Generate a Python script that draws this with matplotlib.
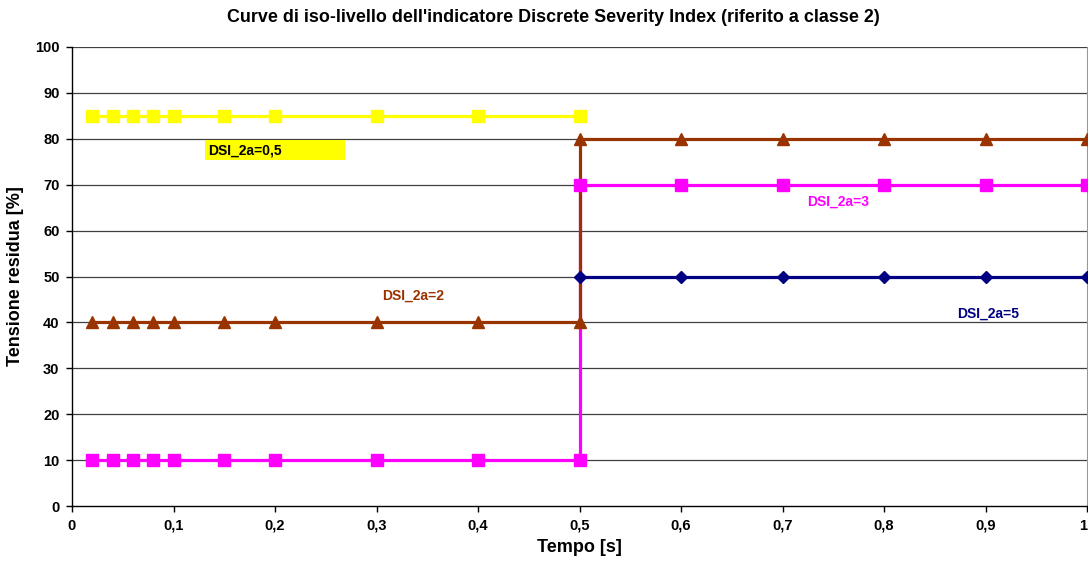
import matplotlib
matplotlib.use("Agg")
import matplotlib.pyplot as plt
from matplotlib.patches import Rectangle

plt.rcParams['font.family'] = ['Liberation Sans', 'DejaVu Sans']
plt.rcParams['font.weight'] = 'bold'

# Data
x_pre = [0.02, 0.04, 0.06, 0.08, 0.1, 0.15, 0.2, 0.3, 0.4, 0.5]
x_post = [0.5, 0.6, 0.7, 0.8, 0.9, 1.0]

dsi05_x = x_pre
dsi05_y = [85] * len(x_pre)

dsi2_x = x_pre + x_post
dsi2_y = [40] * len(x_pre) + [80] * len(x_post)

dsi3_x = x_pre + x_post
dsi3_y = [10] * len(x_pre) + [70] * len(x_post)

dsi5_x = x_post
dsi5_y = [50] * len(x_post)

x_ticks = [0, 0.1, 0.2, 0.3, 0.4, 0.5, 0.6, 0.7, 0.8, 0.9, 1.0]
x_tick_labels = ["0", "0,1", "0,2", "0,3", "0,4", "0,5", "0,6", "0,7", "0,8", "0,9", "1"]
y_ticks = list(range(0, 101, 10))

YELLOW = "#FFFF00"
MAGENTA = "#FF00FF"
BROWN = "#993300"
NAVY = "#000080"

fig = plt.figure(figsize=(10.88, 5.69), dpi=100)
ax = fig.add_axes([72 / 1088, 1 - 506 / 569, 1015 / 1088, (506 - 47) / 569])

lw = 2.3
# lines
ax.plot(dsi05_x, dsi05_y, color=YELLOW, lw=lw, zorder=2)
ax.plot(dsi3_x, dsi3_y, color=MAGENTA, lw=lw, zorder=2)
ax.plot(dsi2_x, dsi2_y, color=BROWN, lw=lw, zorder=2.1)
ax.plot(dsi5_x, dsi5_y, color=NAVY, lw=lw, zorder=2.2)
# markers
ax.plot(dsi05_x, dsi05_y, ls='none', marker='s', ms=8.5, color=YELLOW, zorder=3)
ax.plot(dsi2_x, dsi2_y, ls='none', marker='^', ms=8, color=BROWN, zorder=3)
ax.plot(dsi3_x, dsi3_y, ls='none', marker='s', ms=8.5, color=MAGENTA, zorder=3.1)
ax.plot(dsi5_x, dsi5_y, ls='none', marker='D', ms=6, color=NAVY, zorder=3.2)

ax.set_xlim(0, 1)
ax.set_ylim(0, 100)
ax.set_xticks(x_ticks)
ax.set_xticklabels(x_tick_labels)
ax.set_yticks(y_ticks)
ax.tick_params(axis='both', labelsize=10.5, direction='out', length=4, width=1, pad=5)
for lbl in ax.get_xticklabels() + ax.get_yticklabels():
    lbl.set_fontweight('bold')
# keep the last x tick label inside the figure
ax.get_xticklabels()[-1].set_horizontalalignment('right')

for yv in y_ticks[1:]:
    ax.axhline(yv, color='#404040', lw=0.9, zorder=1)

ax.spines['top'].set_visible(False)
ax.spines['right'].set_color('#999999')
ax.spines['right'].set_linewidth(0.8)
ax.spines['left'].set_linewidth(1.0)
ax.spines['bottom'].set_linewidth(1.0)

ax.set_xlabel("Tempo [s]", fontsize=13, fontweight='bold', labelpad=5)
ax.set_ylabel("Tensione residua [%]", fontsize=13, fontweight='bold', labelpad=8)
fig.text(553 / 1088, 1 - 18 / 569, "Curve di iso-livello dell'indicatore Discrete Severity Index (riferito a classe 2)",
         ha='center', va='center', fontsize=12.9, fontweight='bold')

# labels
ax.add_patch(Rectangle((0.131, 75.4), 0.138, 4.3, color=YELLOW, zorder=4, lw=0))
ax.text(0.134, 77.5, "DSI_2a=0,5", fontsize=10, fontweight='bold', color='black', ha='left', va='center', zorder=5)
ax.text(0.336, 45.8, "DSI_2a=2", fontsize=10, fontweight='bold', color=BROWN, ha='center', va='center', zorder=5)
ax.text(0.755, 66.2, "DSI_2a=3", fontsize=10, fontweight='bold', color=MAGENTA, ha='center', va='center', zorder=5)
ax.text(0.903, 41.8, "DSI_2a=5", fontsize=10, fontweight='bold', color=NAVY, ha='center', va='center', zorder=5)

fig.savefig("out.png", dpi=100)
